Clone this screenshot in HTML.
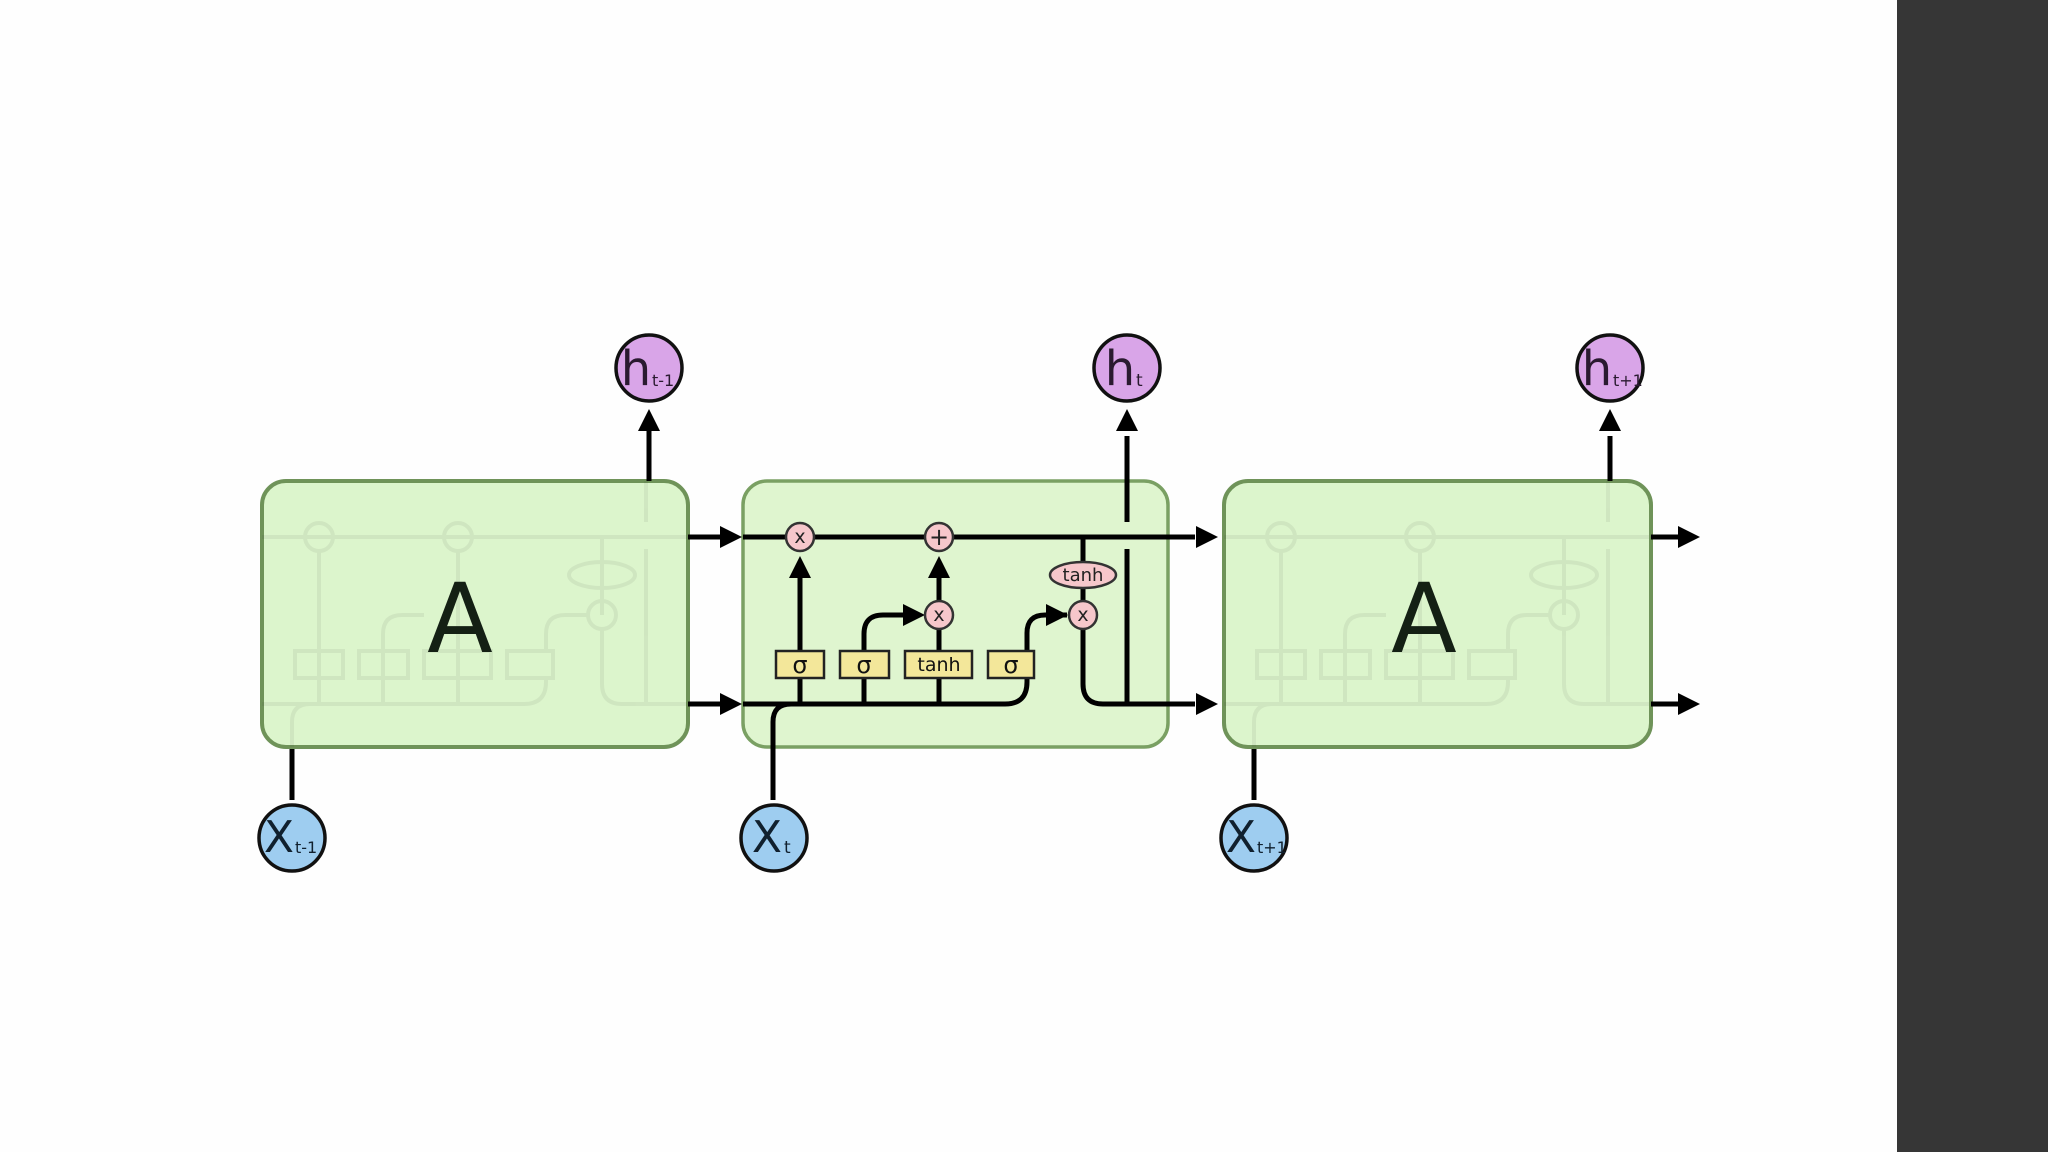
<!DOCTYPE html>
<html><head><meta charset="utf-8"><style>
html,body{margin:0;padding:0;background:#fff}
svg{display:block}
text{font-family:"DejaVu Sans","Liberation Sans",sans-serif}
</style></head><body>
<svg width="2048" height="1152" viewBox="0 0 2048 1152" xmlns="http://www.w3.org/2000/svg">
<rect x="0" y="0" width="1897" height="1152" fill="#fefefe"/>
<rect x="1897" y="0" width="151" height="1152" fill="#363636"/>

<!-- boxes -->
<rect x="262" y="481" width="426" height="266" rx="24" fill="#dcf5cc" stroke="#6f9359" stroke-width="4"/>
<rect x="743" y="481" width="425" height="266" rx="24" fill="#dff5cf" stroke="#7aa063" stroke-width="3.5"/>
<rect x="1224" y="481" width="427" height="266" rx="24" fill="#dcf5cc" stroke="#6f9359" stroke-width="4"/>

<!-- ghost internals -->
<g opacity="0.07" stroke="#333" stroke-width="4" fill="none" transform="translate(-481,0)">
<path d="M743 537H1168M743 704H1005q22 0 22-22V678M1027 651v-17q0-19 19-19h22M773 747V722q0-18 18-18M800 704V551M864 704V634q0-19 19-19h22M939 704V551M1083 537v78M1083 629v55q0 20 20 20h65M1127 704V549M1127 522V481"/>
<rect x="776" y="651" width="48" height="27"/><rect x="840" y="651" width="49" height="27"/><rect x="905" y="651" width="67" height="27"/><rect x="988" y="651" width="46" height="27"/>
<circle cx="800" cy="537" r="14"/><circle cx="939" cy="537" r="14"/><circle cx="1083" cy="615" r="14"/><ellipse cx="1083" cy="575" rx="33" ry="13"/>
</g>
<g opacity="0.07" stroke="#333" stroke-width="4" fill="none" transform="translate(481,0)">
<path d="M743 537H1168M743 704H1005q22 0 22-22V678M1027 651v-17q0-19 19-19h22M773 747V722q0-18 18-18M800 704V551M864 704V634q0-19 19-19h22M939 704V551M1083 537v78M1083 629v55q0 20 20 20h65M1127 704V549M1127 522V481"/>
<rect x="776" y="651" width="48" height="27"/><rect x="840" y="651" width="49" height="27"/><rect x="905" y="651" width="67" height="27"/><rect x="988" y="651" width="46" height="27"/>
<circle cx="800" cy="537" r="14"/><circle cx="939" cy="537" r="14"/><circle cx="1083" cy="615" r="14"/><ellipse cx="1083" cy="575" rx="33" ry="13"/>
</g>

<text x="460" y="652" font-size="96" text-anchor="middle" fill="#142014">A</text>
<text x="1424" y="652" font-size="96" text-anchor="middle" fill="#142014">A</text>

<g stroke="#000" stroke-width="5" fill="none">
<path d="M688 537H722M688 704H722"/>
<path d="M649 481V415"/>
<path d="M292 749V800"/>
<path d="M743 537H1195"/>
<path d="M743 704H1005q22 0 22-22V675"/>
<path d="M1027 650v-17q0-18 18-18h22"/>
<path d="M773 800V722q0-18 18-18"/>
<path d="M800 704V575"/>
<path d="M864 704V634q0-19 19-19h22"/>
<path d="M939 704V629"/>
<path d="M939 601V575"/>
<path d="M1083 537v82M1083 629v55q0 20 20 20h92"/>
<path d="M1127 704V549M1127 522V436"/>
<path d="M1651 537H1678M1651 704H1678"/>
<path d="M1610 481V436"/>
<path d="M1254 749V800"/>
</g>
<g fill="#000">
<path d="M720 526l22 11-22 11z"/><path d="M720 693l22 11-22 11z"/>
<path d="M1196 526l22 11-22 11z"/><path d="M1196 693l22 11-22 11z"/>
<path d="M1678 526l22 11-22 11z"/><path d="M1678 693l22 11-22 11z"/>
<path d="M638 431l11-22 11 22z"/><path d="M1116 431l11-22 11 22z"/><path d="M1599 431l11-22 11 22z"/>
<path d="M789 578l11-22 11 22z"/><path d="M928 578l11-22 11 22z"/>
<path d="M903 604l22 11-22 11z"/><path d="M1046 604l22 11-22 11z"/>
</g>

<g stroke="#222" stroke-width="2.5" fill="#f3e79a">
<rect x="776" y="651" width="48" height="27"/>
<rect x="840" y="651" width="49" height="27"/>
<rect x="905" y="651" width="67" height="27"/>
<rect x="988" y="651" width="46" height="27"/>
</g>
<g font-size="24" text-anchor="middle" fill="#111">
<text x="800" y="673">σ</text><text x="864" y="673">σ</text><text x="1011" y="673">σ</text>
<text x="939" y="671" font-size="19">tanh</text>
</g>
<g stroke="#333" stroke-width="2.5" fill="#f6c7cb">
<circle cx="800" cy="537" r="14"/><circle cx="939" cy="537" r="14"/>
<circle cx="939" cy="615" r="14"/><circle cx="1083" cy="615" r="14"/>
<ellipse cx="1083" cy="575" rx="33" ry="13"/>
</g>
<g font-size="19" text-anchor="middle" fill="#222">
<text x="800" y="543">x</text><text x="939" y="545" font-size="24">+</text>
<text x="939" y="621">x</text><text x="1083" y="621">x</text>
<text x="1083" y="581" font-size="18">tanh</text>
</g>

<g stroke="#111" stroke-width="3.5" fill="#d9a5e8">
<circle cx="649" cy="368" r="33"/><circle cx="1127" cy="368" r="33"/><circle cx="1610" cy="368" r="33"/>
</g>
<g fill="#2a1a30">
<text x="636" y="385" font-size="48" text-anchor="middle">h</text><text x="652" y="386" font-size="16">t-1</text>
<text x="1120" y="385" font-size="48" text-anchor="middle">h</text><text x="1136" y="386" font-size="17">t</text>
<text x="1597" y="385" font-size="48" text-anchor="middle">h</text><text x="1613" y="386" font-size="16">t+1</text>
</g>
<g stroke="#111" stroke-width="3.5" fill="#9ecdf0">
<circle cx="292" cy="838" r="33"/><circle cx="774" cy="838" r="33"/><circle cx="1254" cy="838" r="33"/>
</g>
<g fill="#10202e">
<text x="279" y="852" font-size="44" text-anchor="middle">X</text><text x="295" y="853" font-size="16">t-1</text>
<text x="767" y="852" font-size="44" text-anchor="middle">X</text><text x="784" y="853" font-size="17">t</text>
<text x="1241" y="852" font-size="44" text-anchor="middle">X</text><text x="1257" y="853" font-size="16">t+1</text>
</g>
</svg>
</body></html>
